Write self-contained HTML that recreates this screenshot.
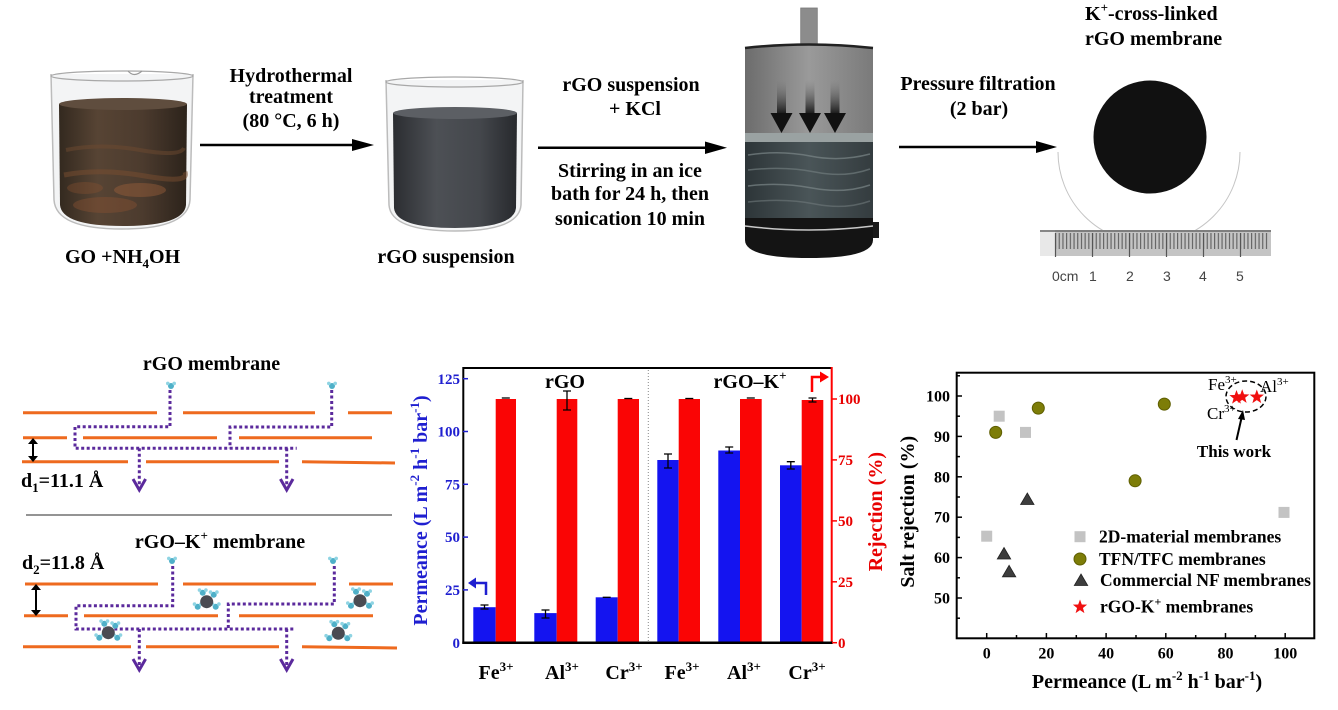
<!DOCTYPE html>
<html><head><meta charset="utf-8">
<style>
html,body{margin:0;padding:0;background:#fff;}
svg{display:block;}
text{font-family:"Liberation Serif","DejaVu Serif",serif;font-weight:bold;fill:#000;}
</style></head>
<body>
<svg width="1338" height="710" viewBox="0 0 1338 710" xmlns="http://www.w3.org/2000/svg">
<defs>
  <linearGradient id="brown" x1="0" x2="1" y1="0" y2="0">
    <stop offset="0" stop-color="#33291f"/>
    <stop offset="0.3" stop-color="#574434"/>
    <stop offset="0.65" stop-color="#4c3b2e"/>
    <stop offset="1" stop-color="#2c231b"/>
  </linearGradient>
  <linearGradient id="gray" x1="0" x2="1" y1="0" y2="0">
    <stop offset="0" stop-color="#2b2d31"/>
    <stop offset="0.35" stop-color="#4d5055"/>
    <stop offset="0.7" stop-color="#44474c"/>
    <stop offset="1" stop-color="#27292d"/>
  </linearGradient>
  <linearGradient id="dev" x1="0" x2="1" y1="0" y2="0">
    <stop offset="0" stop-color="#6c6c6c"/>
    <stop offset="0.5" stop-color="#9a9a9a"/>
    <stop offset="1" stop-color="#7a7a7a"/>
  </linearGradient>
  <linearGradient id="devw" x1="0" x2="1" y1="0" y2="0">
    <stop offset="0" stop-color="#2d3538"/>
    <stop offset="0.5" stop-color="#4a5558"/>
    <stop offset="1" stop-color="#343c3f"/>
  </linearGradient>
  <linearGradient id="shaft" x1="0" x2="0" y1="0" y2="1">
    <stop offset="0" stop-color="#777" stop-opacity="0"/>
    <stop offset="1" stop-color="#111"/>
  </linearGradient>
  <pattern id="mm" x="1055" y="0" width="3.7" height="40" patternUnits="userSpaceOnUse">
    <rect x="0" y="0" width="1.1" height="40" fill="#5e5e5e"/>
  </pattern>
  <g id="w">
    <circle cx="0" cy="0" r="3" fill="#4fb0c8"/>
    <circle cx="-3.2" cy="-2.6" r="1.8" fill="#8fd4e3"/>
    <circle cx="3.2" cy="-2.6" r="1.8" fill="#8fd4e3"/>
  </g>
  <g id="ion">
    <use href="#w" x="-9" y="5"/>
    <use href="#w" x="9" y="5"/>
    <use href="#w" x="-4" y="-9"/>
    <use href="#w" x="7" y="-7"/>
    <circle r="6.5" fill="#4a4b52"/>
  </g>
  <polygon id="star" points="0,-7.5 1.82,-2.51 7.13,-2.32 2.95,0.96 4.41,6.07 0,3.1 -4.41,6.07 -2.95,0.96 -7.13,-2.32 -1.82,-2.51" fill="#f01010"/>
</defs>

<!-- ===================== TOP ROW ===================== -->
<!-- Beaker 1 -->
<path d="M51,74 L54,200 Q56,229 122,229 Q188,229 190,200 L193,74" fill="#f3f4f5" stroke="#bcbcbc" stroke-width="1.5"/>
<path d="M59,104 L60,205 Q62,226 123,226 Q184,226 186,205 L187,104 Z" fill="url(#brown)"/>
<path d="M66,150 Q100,143 140,150 T184,148" stroke="#6e4a30" stroke-width="4" fill="none" opacity="0.5"/>
<path d="M64,175 Q100,168 145,176 T185,172" stroke="#7a4e30" stroke-width="5" fill="none" opacity="0.5"/>
<ellipse cx="140" cy="190" rx="26" ry="7" fill="#a4643c" opacity="0.4"/>
<ellipse cx="105" cy="205" rx="32" ry="8" fill="#8c5232" opacity="0.4"/>
<ellipse cx="85" cy="188" rx="18" ry="6" fill="#8c5232" opacity="0.35"/>
<ellipse cx="123" cy="104" rx="64" ry="6" fill="#5f4d3e"/>
<ellipse cx="122" cy="76" rx="71" ry="5" fill="none" stroke="#a8a8a8" stroke-width="1.3"/>
<path d="M128,71 Q134,78 142,71" fill="none" stroke="#999" stroke-width="1.2"/>

<!-- Arrow 1 -->
<line x1="200" y1="145" x2="356" y2="145" stroke="#000" stroke-width="2.5"/>
<polygon points="352,139 374,145 352,151" fill="#000"/>
<text x="291" y="82" font-size="20" text-anchor="middle">Hydrothermal</text>
<text x="291" y="103" font-size="20" text-anchor="middle">treatment</text>
<text x="291" y="127" font-size="20" text-anchor="middle">(80  °C, 6 h)</text>
<text x="65" y="263" font-size="20">GO +NH<tspan font-size="13" dy="5">4</tspan><tspan dy="-5">OH</tspan></text>

<!-- Beaker 2 -->
<path d="M386,80 L389,205 Q391,231 455,231 Q519,231 521,205 L523,80" fill="#f3f4f5" stroke="#bcbcbc" stroke-width="1.5"/>
<path d="M393,113 L394,208 Q396,228 455,228 Q514,228 516,208 L517,113 Z" fill="url(#gray)"/>
<ellipse cx="455" cy="113" rx="62" ry="6" fill="#5c5f64"/>
<ellipse cx="454.5" cy="82" rx="68.5" ry="5" fill="none" stroke="#a8a8a8" stroke-width="1.3"/>
<text x="446" y="263" font-size="20" text-anchor="middle">rGO suspension</text>

<!-- Arrow 2 -->
<text x="631" y="91" font-size="20" text-anchor="middle">rGO suspension</text>
<text x="635" y="115" font-size="20" text-anchor="middle">+  KCl</text>
<line x1="538" y1="147.7" x2="708" y2="147.7" stroke="#000" stroke-width="2.5"/>
<polygon points="705,141.5 727,147.7 705,154" fill="#000"/>
<text x="630" y="177" font-size="20" text-anchor="middle">Stirring in an ice</text>
<text x="630" y="200" font-size="20" text-anchor="middle">bath for 24 h, then</text>
<text x="630" y="225" font-size="20" text-anchor="middle">sonication 10 min</text>

<!-- Filter device -->
<rect x="800.7" y="8" width="16.6" height="38" fill="#8c8c8c" stroke="#777" stroke-width="0.8"/>
<path d="M745,48 Q809,41 873,48 L873,137 L745,137 Z" fill="url(#dev)"/>
<path d="M745,48 Q809,41 873,48" stroke="#222" stroke-width="2.5" fill="none"/>
<rect x="745" y="133" width="128" height="9" fill="#9aa2a2"/>
<rect x="745" y="142" width="128" height="78" fill="url(#devw)"/>
<path d="M748,155 Q780,150 810,156 T870,154" stroke="#7b8688" stroke-width="1.5" fill="none" opacity="0.7"/>
<path d="M748,170 Q785,166 815,172 T870,169" stroke="#6f7a7c" stroke-width="1.5" fill="none" opacity="0.7"/>
<path d="M748,186 Q780,182 812,188 T870,185" stroke="#7b8688" stroke-width="1.5" fill="none" opacity="0.7"/>
<path d="M748,202 Q785,198 815,204 T870,201" stroke="#6f7a7c" stroke-width="1.5" fill="none" opacity="0.6"/>
<path d="M745,218 L873,218 L873,240 Q873,258 809,258 Q745,258 745,240 Z" fill="#141414"/>
<path d="M745,226 Q809,234 873,226" stroke="#c8c8c8" stroke-width="1.5" fill="none"/>
<rect x="873" y="222" width="6" height="16" fill="#1a1a1a"/>
<rect x="777" y="80" width="9" height="35" fill="url(#shaft)"/>
<rect x="805.5" y="80" width="9" height="35" fill="url(#shaft)"/>
<rect x="830.5" y="80" width="9" height="35" fill="url(#shaft)"/>
<polygon points="770.5,113 792.5,113 781.5,133" fill="#111"/>
<polygon points="799,113 821,113 810,133" fill="#111"/>
<polygon points="824,113 846,113 835,133" fill="#111"/>

<!-- Arrow 3 -->
<text x="978" y="90" font-size="20" text-anchor="middle">Pressure filtration</text>
<text x="979" y="115" font-size="20" text-anchor="middle">(2 bar)</text>
<line x1="899" y1="147" x2="1040" y2="147" stroke="#000" stroke-width="2.5"/>
<polygon points="1036,141 1057,147 1036,153" fill="#000"/>

<!-- Membrane -->
<text x="1085" y="20" font-size="20">K<tspan font-size="13" dy="-8">+</tspan><tspan dy="8">-cross-linked</tspan></text>
<text x="1085" y="45" font-size="20">rGO membrane</text>
<path d="M1058,152 A91,91 0 0 0 1240,152" fill="none" stroke="#c4c4c4" stroke-width="1"/>
<circle cx="1150" cy="137" r="56.5" fill="#111"/>
<rect x="1040" y="230" width="231" height="26" fill="#c4c4c4"/>
<rect x="1040" y="230" width="15" height="26" fill="#e8e8e8"/>
<rect x="1055" y="233" width="213" height="16" fill="url(#mm)"/>
<line x1="1040" y1="231" x2="1271" y2="231" stroke="#666" stroke-width="1.5"/>
<g stroke="#555" stroke-width="1.2">
<line x1="1055.5" y1="233" x2="1055.5" y2="257"/>
<line x1="1092.5" y1="233" x2="1092.5" y2="257"/>
<line x1="1129.5" y1="233" x2="1129.5" y2="257"/>
<line x1="1166.5" y1="233" x2="1166.5" y2="257"/>
<line x1="1203.5" y1="233" x2="1203.5" y2="257"/>
<line x1="1240.5" y1="233" x2="1240.5" y2="257"/>
</g>
<g>
<text x="1052" y="281" font-size="14" style="font-weight:normal;font-family:'Liberation Sans',sans-serif;fill:#444">0cm</text>
<text x="1089" y="281" font-size="14" style="font-weight:normal;font-family:'Liberation Sans',sans-serif;fill:#444">1</text>
<text x="1126" y="281" font-size="14" style="font-weight:normal;font-family:'Liberation Sans',sans-serif;fill:#444">2</text>
<text x="1163" y="281" font-size="14" style="font-weight:normal;font-family:'Liberation Sans',sans-serif;fill:#444">3</text>
<text x="1199" y="281" font-size="14" style="font-weight:normal;font-family:'Liberation Sans',sans-serif;fill:#444">4</text>
<text x="1236" y="281" font-size="14" style="font-weight:normal;font-family:'Liberation Sans',sans-serif;fill:#444">5</text>
</g>

<!-- ===================== BOTTOM LEFT SCHEMATIC ===================== -->
<text x="211.5" y="370" font-size="20" text-anchor="middle">rGO membrane</text>
<g stroke="#ee6a1f" stroke-width="3">
<line x1="23" y1="412.7" x2="157" y2="412.7"/>
<line x1="183" y1="412.7" x2="315" y2="412.7"/>
<line x1="348" y1="412.7" x2="392" y2="412.7"/>
<line x1="23" y1="437.7" x2="67" y2="437.7"/>
<line x1="83" y1="437.7" x2="217" y2="437.7"/>
<line x1="239" y1="437.7" x2="372" y2="437.7"/>
<line x1="22" y1="461.7" x2="128" y2="461.7"/>
<line x1="146" y1="461.7" x2="279" y2="461.7"/>
<line x1="302" y1="461.7" x2="395" y2="463"/>
</g>
<g stroke="#5b2a9c" stroke-width="3" fill="none" stroke-dasharray="3 2.5">
<polyline points="170,390 170,426.7 75,426.7 75,448.3 296.7,448.3"/>
<polyline points="331.7,390 331.7,427 230,427 230,448.3"/>
<polyline points="139.3,448.3 139.3,486"/>
<polyline points="286.7,448.3 286.7,486"/>
</g>
<g stroke="#5b2a9c" stroke-width="3" fill="none">
<polyline points="133,479 139.3,490 145.6,479"/>
<polyline points="280.4,479 286.7,490 293,479"/>
</g>
<use href="#w" x="171" y="386"/>
<use href="#w" x="332" y="386"/>
<line x1="33" y1="442" x2="33" y2="458" stroke="#000" stroke-width="2"/>
<polygon points="28,444 33,438 38,444" fill="#000"/>
<polygon points="28,456 33,462 38,456" fill="#000"/>
<text x="21" y="487" font-size="20">d<tspan font-size="13" dy="5">1</tspan><tspan dy="-5">=11.1 Å</tspan></text>

<line x1="26" y1="515" x2="392" y2="515" stroke="#555" stroke-width="1.3"/>

<text x="220" y="548" font-size="20" text-anchor="middle">rGO–K<tspan font-size="13" dy="-8">+</tspan><tspan dy="8"> membrane</tspan></text>
<text x="22" y="569" font-size="20">d<tspan font-size="13" dy="5">2</tspan><tspan dy="-5">=11.8 Å</tspan></text>
<g stroke="#ee6a1f" stroke-width="3">
<line x1="25" y1="584" x2="158" y2="584"/>
<line x1="183" y1="584" x2="316" y2="584"/>
<line x1="349" y1="584" x2="393" y2="584"/>
<line x1="24" y1="615.7" x2="68" y2="615.7"/>
<line x1="84" y1="615.7" x2="218" y2="615.7"/>
<line x1="239" y1="615.7" x2="373" y2="615.7"/>
<line x1="23" y1="646.7" x2="131" y2="646.7"/>
<line x1="146" y1="646.7" x2="279" y2="646.7"/>
<line x1="302" y1="646.7" x2="397" y2="648"/>
</g>
<g stroke="#5b2a9c" stroke-width="3" fill="none" stroke-dasharray="3 2.5">
<polyline points="172.7,566 172.7,605.7 76,605.7 76,629 293.3,629"/>
<polyline points="334.3,566 334.3,604 228.3,604 228.3,629"/>
<polyline points="139.3,629 139.3,666"/>
<polyline points="286.7,629 286.7,666"/>
</g>
<g stroke="#5b2a9c" stroke-width="3" fill="none">
<polyline points="133,659 139.3,670 145.6,659"/>
<polyline points="280.4,659 286.7,670 293,659"/>
</g>
<use href="#w" x="172" y="561"/>
<use href="#w" x="333" y="561"/>
<use href="#ion" x="206.7" y="601.7"/>
<use href="#ion" x="360" y="600.7"/>
<use href="#ion" x="108.3" y="632.7"/>
<use href="#ion" x="338.3" y="633.3"/>
<line x1="36" y1="589" x2="36" y2="611" stroke="#000" stroke-width="2"/>
<polygon points="31,590 36,584 41,590" fill="#000"/>
<polygon points="31,610 36,616 41,610" fill="#000"/>

<!-- ===================== BAR CHART ===================== -->
<g fill="#1414f0">
<rect x="473.3" y="607.2" width="22.4" height="35.5"/>
<rect x="534.3" y="613.1" width="22.4" height="29.6"/>
<rect x="595.7" y="597.3" width="22" height="45.4"/>
<rect x="657.3" y="460" width="21.4" height="182.7"/>
<rect x="718.3" y="450.5" width="21.7" height="192.2"/>
<rect x="780" y="465.3" width="21.7" height="177.4"/>
</g>
<g fill="#fa0505">
<rect x="495.7" y="399" width="20.3" height="243.7"/>
<rect x="556.7" y="399" width="20.6" height="243.7"/>
<rect x="617.7" y="399" width="21.3" height="243.7"/>
<rect x="678.7" y="399" width="21.3" height="243.7"/>
<rect x="740" y="399" width="21.7" height="243.7"/>
<rect x="801.7" y="400" width="21.6" height="242.7"/>
</g>
<g stroke="#000" stroke-width="1.3">
<path d="M484.5,605 V609 M480.5,605 H488.5 M480.5,609 H488.5"/>
<path d="M545.5,610 V618 M541.5,610 H549.5 M541.5,618 H549.5"/>
<path d="M602.7,597.3 H610.7"/>
<path d="M501.8,398 H509.8"/>
<path d="M567,391 V410 M563,391 H571 M563,410 H571"/>
<path d="M624.3,398.5 H632.3"/>
<path d="M668,454 V468 M664,454 H672 M664,468 H672"/>
<path d="M685.3,398.5 H693.3"/>
<path d="M729.2,447 V453 M725.2,447 H733.2 M725.2,453 H733.2"/>
<path d="M746.8,398 H754.8"/>
<path d="M790.8,461.7 V469 M786.8,461.7 H794.8 M786.8,469 H794.8"/>
<path d="M812.5,398 V402 M808.5,398 H816.5 M808.5,402 H816.5"/>
</g>
<line x1="648.3" y1="370" x2="648.3" y2="641" stroke="#888" stroke-width="1" stroke-dasharray="1 2"/>
<line x1="462.5" y1="368" x2="832.5" y2="368" stroke="#000" stroke-width="2"/>
<line x1="463.3" y1="367" x2="463.3" y2="643.7" stroke="#000" stroke-width="2"/>
<line x1="831.7" y1="367" x2="831.7" y2="643.7" stroke="#f00" stroke-width="2"/>
<line x1="462.3" y1="642.7" x2="832.7" y2="642.7" stroke="#000" stroke-width="2.5"/>
<g stroke="#1f1fd0" stroke-width="1.5">
<line x1="463" y1="589.9" x2="468" y2="589.9"/>
<line x1="463" y1="537.1" x2="468" y2="537.1"/>
<line x1="463" y1="484.3" x2="468" y2="484.3"/>
<line x1="463" y1="431.5" x2="468" y2="431.5"/>
<line x1="463" y1="378.7" x2="468" y2="378.7"/>
</g>
<g stroke="#f00" stroke-width="1.5">
<line x1="832" y1="581.8" x2="837" y2="581.8"/>
<line x1="832" y1="520.9" x2="837" y2="520.9"/>
<line x1="832" y1="459.9" x2="837" y2="459.9"/>
<line x1="832" y1="399" x2="837" y2="399"/>
<line x1="832" y1="642.7" x2="837" y2="642.7"/>
</g>
<g font-size="15" text-anchor="end">
<text x="460" y="648" style="fill:#1f1fd0">0</text>
<text x="460" y="595" style="fill:#1f1fd0">25</text>
<text x="460" y="542" style="fill:#1f1fd0">50</text>
<text x="460" y="489.5" style="fill:#1f1fd0">75</text>
<text x="460" y="436.5" style="fill:#1f1fd0">100</text>
<text x="460" y="384" style="fill:#1f1fd0">125</text>
</g>
<g font-size="15">
<text x="838" y="648" style="fill:#e80000">0</text>
<text x="838" y="587" style="fill:#e80000">25</text>
<text x="838" y="526" style="fill:#e80000">50</text>
<text x="838" y="465" style="fill:#e80000">75</text>
<text x="838" y="404" style="fill:#e80000">100</text>
</g>
<path d="M486,595 V583 H474" fill="none" stroke="#1f1fd0" stroke-width="2.5"/>
<polygon points="476,577.5 468,583 476,588.5" fill="#1f1fd0"/>
<path d="M812,392 V377 H822" fill="none" stroke="#f00" stroke-width="2.5"/>
<polygon points="820,371.5 829,377 820,382.5" fill="#f00"/>
<text x="565" y="388" font-size="20" text-anchor="middle">rGO</text>
<text x="750" y="388" font-size="20" text-anchor="middle">rGO–K<tspan font-size="13" dy="-8">+</tspan></text>
<g font-size="20" text-anchor="middle">
<text x="496" y="679">Fe<tspan font-size="13" dy="-8">3+</tspan></text>
<text x="562" y="679">Al<tspan font-size="13" dy="-8">3+</tspan></text>
<text x="624" y="679">Cr<tspan font-size="13" dy="-8">3+</tspan></text>
<text x="682" y="679">Fe<tspan font-size="13" dy="-8">3+</tspan></text>
<text x="744" y="679">Al<tspan font-size="13" dy="-8">3+</tspan></text>
<text x="807" y="679">Cr<tspan font-size="13" dy="-8">3+</tspan></text>
</g>
<text transform="translate(427,510.5) rotate(-90)" font-size="20" text-anchor="middle" style="fill:#1f1fd0">Permeance (L m<tspan font-size="13" dy="-8">-2</tspan><tspan dy="8"> h</tspan><tspan font-size="13" dy="-8">-1</tspan><tspan dy="8"> bar</tspan><tspan font-size="13" dy="-8">-1</tspan><tspan dy="8">)</tspan></text>
<text transform="translate(882,511.7) rotate(-90)" font-size="20" text-anchor="middle" style="fill:#e80000">Rejection (%)</text>

<!-- ===================== SCATTER ===================== -->
<rect x="956.7" y="372.7" width="357.6" height="265.6" fill="none" stroke="#000" stroke-width="2"/>
<g stroke="#000" stroke-width="1.5">
<line x1="957" y1="396" x2="962" y2="396"/>
<line x1="957" y1="436.4" x2="962" y2="436.4"/>
<line x1="957" y1="476.8" x2="962" y2="476.8"/>
<line x1="957" y1="517.2" x2="962" y2="517.2"/>
<line x1="957" y1="557.6" x2="962" y2="557.6"/>
<line x1="957" y1="598" x2="962" y2="598"/>
<line x1="957" y1="375.8" x2="960" y2="375.8"/>
<line x1="957" y1="416.2" x2="960" y2="416.2"/>
<line x1="957" y1="456.6" x2="960" y2="456.6"/>
<line x1="957" y1="497" x2="960" y2="497"/>
<line x1="957" y1="537.4" x2="960" y2="537.4"/>
<line x1="957" y1="577.8" x2="960" y2="577.8"/>
<line x1="957" y1="618.2" x2="960" y2="618.2"/>
<line x1="986.7" y1="638" x2="986.7" y2="633"/>
<line x1="1016.5" y1="638" x2="1016.5" y2="635"/>
<line x1="1046.4" y1="638" x2="1046.4" y2="633"/>
<line x1="1076.3" y1="638" x2="1076.3" y2="635"/>
<line x1="1106.1" y1="638" x2="1106.1" y2="633"/>
<line x1="1136" y1="638" x2="1136" y2="635"/>
<line x1="1165.8" y1="638" x2="1165.8" y2="633"/>
<line x1="1195.7" y1="638" x2="1195.7" y2="635"/>
<line x1="1225.5" y1="638" x2="1225.5" y2="633"/>
<line x1="1255.4" y1="638" x2="1255.4" y2="635"/>
<line x1="1285.2" y1="638" x2="1285.2" y2="633"/>
</g>
<g font-size="16" text-anchor="end">
<text x="950" y="401.5">100</text>
<text x="950" y="442">90</text>
<text x="950" y="482.3">80</text>
<text x="950" y="522.7">70</text>
<text x="950" y="563">60</text>
<text x="950" y="603.5">50</text>
</g>
<g font-size="16" text-anchor="middle">
<text x="986.7" y="658.5">0</text>
<text x="1046.4" y="658.5">20</text>
<text x="1106.1" y="658.5">40</text>
<text x="1165.8" y="658.5">60</text>
<text x="1225.5" y="658.5">80</text>
<text x="1285.2" y="658.5">100</text>
</g>
<text transform="translate(914,511.7) rotate(-90)" font-size="20" text-anchor="middle">Salt rejection (%)</text>
<text x="1147" y="688" font-size="20" text-anchor="middle">Permeance (L m<tspan font-size="13" dy="-8">-2</tspan><tspan dy="8"> h</tspan><tspan font-size="13" dy="-8">-1</tspan><tspan dy="8"> bar</tspan><tspan font-size="13" dy="-8">-1</tspan><tspan dy="8">)</tspan></text>

<g fill="#c3c3c3">
<rect x="981.2" y="530.7" width="11" height="11"/>
<rect x="993.7" y="410.7" width="11" height="11"/>
<rect x="1020" y="426.9" width="11" height="11"/>
<rect x="1278.5" y="506.9" width="11" height="11"/>
<rect x="1074.5" y="531.2" width="11" height="11"/>
</g>
<g fill="#7d7d08" stroke="#5e5e00" stroke-width="1">
<circle cx="995.7" cy="432.4" r="6"/>
<circle cx="1038.3" cy="408.1" r="6"/>
<circle cx="1135.1" cy="480.8" r="6"/>
<circle cx="1164.3" cy="404.1" r="6"/>
<circle cx="1080" cy="559" r="6"/>
</g>
<g fill="#3d3d3d" stroke="#222" stroke-width="0.8">
<polygon points="1027.3,493 1034,504.5 1020.6,504.5"/>
<polygon points="1004,547.5 1010.7,559 997.3,559"/>
<polygon points="1009.1,565.3 1015.8,576.8 1002.4,576.8"/>
<polygon points="1081,574 1087.7,585.5 1074.3,585.5"/>
</g>
<use href="#star" x="1236.5" y="397.5"/>
<use href="#star" x="1242.2" y="396.8"/>
<use href="#star" x="1256.8" y="397"/>
<use href="#star" x="1080" y="607"/>
<ellipse cx="1246" cy="396.5" rx="20" ry="15.5" fill="none" stroke="#000" stroke-width="1.5" stroke-dasharray="5 3"/>
<line x1="1236.5" y1="440" x2="1241.5" y2="418" stroke="#000" stroke-width="2"/>
<polygon points="1238,419 1243,410 1245,420" fill="#000"/>
<text x="1234" y="457" font-size="17" text-anchor="middle">This work</text>
<text x="1208" y="390" font-size="17" style="font-weight:normal">Fe<tspan font-size="11" dy="-7">3+</tspan></text>
<text x="1260" y="392" font-size="17" style="font-weight:normal">Al<tspan font-size="11" dy="-7">3+</tspan></text>
<text x="1207" y="419" font-size="17" style="font-weight:normal">Cr<tspan font-size="11" dy="-7">3+</tspan></text>

<g font-size="17.5">
<text x="1099" y="542.7">2D-material membranes</text>
<text x="1099" y="565">TFN/TFC membranes</text>
<text x="1100" y="586">Commercial NF membranes</text>
<text x="1100" y="612.7">rGO-K<tspan font-size="12" dy="-7">+</tspan><tspan dy="7"> membranes</tspan></text>
</g>
</svg>
</body></html>
